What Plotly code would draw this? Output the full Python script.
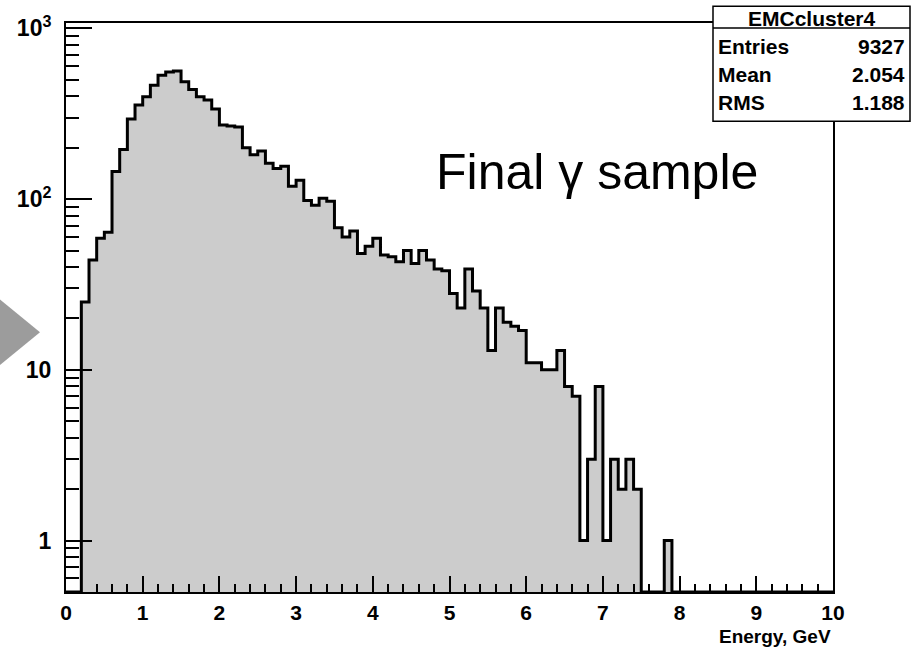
import numpy as np
import plotly.graph_objects as go

# ---- data ----
bin_edges = [round(0.1 * i, 1) for i in range(101)]
counts = [
    0, 0, 25, 44, 59, 64, 145, 195, 295, 356,
    398, 465, 531, 555, 563, 486, 439, 398, 380, 337,
    272, 268, 264, 200, 182, 191, 162, 151, 156, 119,
    129, 98, 92, 101, 97, 68, 60, 65, 48, 53,
    59, 47, 46, 43, 50, 42, 50, 44, 39, 38,
    28, 23, 39, 29, 23, 13, 23, 19, 18, 17,
    11, 11, 10, 10, 13, 8, 7, 1, 3, 8,
    1, 3, 2, 3, 2, 0, 0, 0, 1, 0,
    0, 0, 0, 0, 0, 0, 0, 0, 0, 0,
    0, 0, 0, 0, 0, 0, 0, 0, 0, 0,
]
hist_name = "EMCcluster4"
stat_labels = ["Entries", "Mean", "RMS"]
stat_values = ["9327", "2.054", "1.188"]
x_ticks = list(range(0, 11))
y_ticks = [1, 10, 100, 1000]
y_ticktext = ["1", "10", "10<sup>2</sup>", "10<sup>3</sup>"]
x_title = "Energy, GeV"
label_text = "Final γ sample"

Y_MIN, Y_MAX = 0.5, 1075.0

# ---- geometry ----
W, H = 915, 650
L, R, T, B = 66, 82, 18, 58
PW, PH = W - L - R, H - T - B


def px(x):
    return (x - L) / PW


def py(y):
    return (H - B - y) / PH


edges = np.array(bin_edges)
cnt = np.array(counts, dtype=float)
centers = (edges[:-1] + edges[1:]) / 2
widths = np.diff(edges)

outline_y = np.where(cnt > 0, cnt, Y_MIN)
outline_y = np.append(outline_y, outline_y[-1])

fig = go.Figure()
fig.add_trace(go.Bar(
    x=centers[cnt > 0], y=cnt[cnt > 0], width=widths[cnt > 0],
    marker=dict(color="#cccccc", line=dict(width=0)),
    hoverinfo="skip", showlegend=False,
))
fig.add_trace(go.Scatter(
    x=edges, y=outline_y, mode="lines",
    line=dict(shape="hv", color="black", width=3),
    hoverinfo="skip", showlegend=False,
))

FONT = "Liberation Sans, Arial, sans-serif"
xtickfont = dict(family=FONT, size=21, color="black", weight="bold")
ytickfont = dict(family=FONT, size=23, color="black", weight="bold")

y_minor = [v * d for d in (0.1, 1, 10, 100) for v in range(2, 10)]
y_minor = [v for v in y_minor if Y_MIN <= v <= Y_MAX and v not in y_ticks]

fig.update_layout(
    width=W, height=H,
    margin=dict(l=L, r=R, t=T, b=B, pad=0),
    paper_bgcolor="white", plot_bgcolor="white",
    bargap=0, showlegend=False,
    xaxis=dict(
        range=[0, 10], tickvals=x_ticks, ticks="inside", ticklen=16,
        tickwidth=1.5, tickcolor="black", showgrid=False, zeroline=False,
        showline=True, linecolor="black", linewidth=2, mirror=True,
        tickfont=xtickfont, ticklabelstandoff=1,
        minor=dict(dtick=0.2, ticks="inside", ticklen=8, tickwidth=1.5,
                   tickcolor="black", showgrid=False),
    ),
    yaxis=dict(
        type="log", range=[np.log10(Y_MIN), np.log10(Y_MAX)],
        tickvals=y_ticks, ticktext=y_ticktext, ticks="inside", ticklen=26,
        tickwidth=1.5, tickcolor="black", showgrid=False, zeroline=False,
        showline=True, linecolor="black", linewidth=2, mirror=True,
        tickfont=ytickfont, ticklabelstandoff=8,
        minor=dict(tickmode="array", tickvals=y_minor, ticks="inside",
                   ticklen=13, tickwidth=1.5, tickcolor="black",
                   showgrid=False),
    ),
)

# decorative slide arrow on the left
fig.add_shape(type="path",
              path=f"M {px(0)} {py(297)} L {px(40)} {py(330)} L {px(0)} {py(363)} Z",
              xref="paper", yref="paper", fillcolor="#9c9c9c",
              line=dict(width=0), layer="above")

# stats box
bx0, bx1, by0, by1, bsep = 713, 910, 1, 117, 23
fig.add_shape(type="rect", xref="paper", yref="paper",
              x0=px(bx0), x1=px(bx1), y0=py(by1), y1=py(by0),
              fillcolor="white", line=dict(color="black", width=1.5),
              layer="above")
fig.add_shape(type="line", xref="paper", yref="paper",
              x0=px(bx0), x1=px(bx1), y0=py(bsep), y1=py(bsep),
              line=dict(color="black", width=1.5), layer="above")

statfont = dict(family=FONT, size=21, color="black", weight="bold")
fig.add_annotation(x=px((bx0 + bx1) / 2), y=py((by0 + bsep) / 2 + 1),
                   xref="paper", yref="paper", text=hist_name,
                   showarrow=False, font=statfont,
                   xanchor="center", yanchor="middle")
row_y = [42, 70, 98]
for lab, val, ry in zip(stat_labels, stat_values, row_y):
    fig.add_annotation(x=px(bx0 + 3), y=py(ry), xref="paper", yref="paper",
                       text=lab, showarrow=False, font=statfont,
                       xanchor="left", yanchor="middle")
    fig.add_annotation(x=px(bx1 - 3), y=py(ry), xref="paper", yref="paper",
                       text=val, showarrow=False, font=statfont,
                       xanchor="right", yanchor="middle")

# x-axis title (right aligned, ROOT style)
fig.add_annotation(x=1, y=py(649), xref="paper", yref="paper",
                   text=x_title, showarrow=False,
                   font=dict(family=FONT, size=19, color="black",
                             weight="bold"),
                   xanchor="right", yanchor="bottom")

# in-plot label
fig.add_annotation(x=px(597), y=py(168), xref="paper", yref="paper",
                   text=label_text, showarrow=False,
                   font=dict(family=FONT, size=50, color="black"),
                   xanchor="center", yanchor="middle")

fig.write_html("out.html")
